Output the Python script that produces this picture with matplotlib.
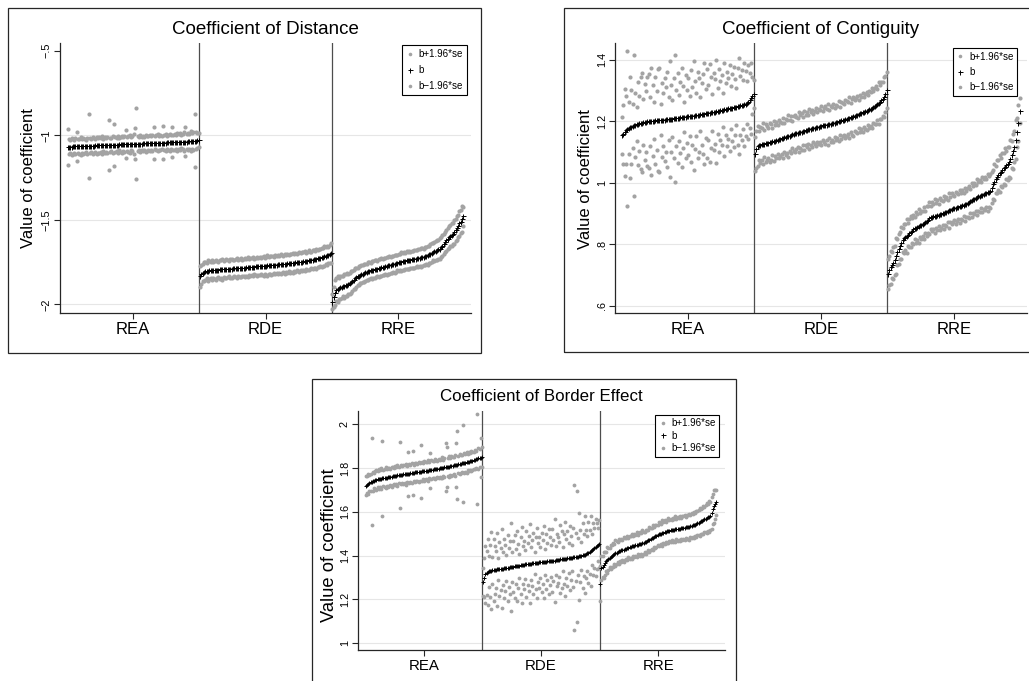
import matplotlib
matplotlib.use('Agg')
import matplotlib.pyplot as plt
from matplotlib.patches import Rectangle
from matplotlib.lines import Line2D
import numpy as np

plt.rcParams['font.family'] = ['Liberation Sans', 'DejaVu Sans']

groups = ['REA', 'RDE', 'RRE']
legend_labels = ['b+1.96*se', 'b', 'b\u22121.96*se']

# ---------------- Coefficient of Distance ----------------
dist_rea_b = [
    -1.070, -1.068, -1.067, -1.067, -1.066, -1.066, -1.065, -1.065, -1.065, -1.064,
    -1.064, -1.064, -1.063, -1.063, -1.063, -1.062, -1.062, -1.062, -1.061, -1.061,
    -1.061, -1.060, -1.060, -1.060, -1.059, -1.059, -1.059, -1.058, -1.058, -1.058,
    -1.057, -1.057, -1.057, -1.056, -1.056, -1.056, -1.055, -1.055, -1.055, -1.054,
    -1.054, -1.054, -1.053, -1.053, -1.053, -1.052, -1.052, -1.052, -1.051, -1.051,
    -1.051, -1.050, -1.050, -1.050, -1.049, -1.049, -1.049, -1.048, -1.048, -1.048,
    -1.047, -1.047, -1.047, -1.046, -1.046, -1.046, -1.045, -1.045, -1.045, -1.044,
    -1.044, -1.044, -1.043, -1.043, -1.043, -1.042, -1.042, -1.042, -1.041, -1.041,
    -1.041, -1.040, -1.040, -1.040, -1.039, -1.039, -1.039, -1.038, -1.038, -1.037,
    -1.037, -1.036, -1.036, -1.035, -1.035, -1.034, -1.033, -1.032, -1.031, -1.028]
dist_rea_hw = [
    0.108, 0.045, 0.038, 0.050, 0.042, 0.036, 0.047, 0.085, 0.040, 0.044,
    0.052, 0.039, 0.046, 0.041, 0.035, 0.048, 0.190, 0.043, 0.038, 0.050,
    0.044, 0.037, 0.049, 0.042, 0.046, 0.040, 0.053, 0.038, 0.045, 0.041,
    0.047, 0.149, 0.043, 0.039, 0.051, 0.123, 0.044, 0.040, 0.048, 0.036,
    0.045, 0.050, 0.041, 0.047, 0.083, 0.039, 0.046, 0.052, 0.038, 0.044,
    0.060, 0.090, 0.210, 0.043, 0.037, 0.049, 0.041, 0.046, 0.039, 0.051,
    0.044, 0.040, 0.048, 0.042, 0.047, 0.095, 0.038, 0.045, 0.050, 0.041,
    0.046, 0.039, 0.100, 0.044, 0.049, 0.037, 0.043, 0.051, 0.040, 0.090,
    0.045, 0.048, 0.041, 0.053, 0.044, 0.050, 0.039, 0.046, 0.055, 0.088,
    0.047, 0.052, 0.044, 0.058, 0.049, 0.055, 0.156, 0.050, 0.046, 0.040]
dist_rde_b = [
    -1.833, -1.822, -1.812, -1.806, -1.803, -1.801, -1.800, -1.799, -1.798, -1.797,
    -1.796, -1.796, -1.795, -1.794, -1.794, -1.793, -1.792, -1.792, -1.791, -1.790,
    -1.790, -1.789, -1.789, -1.788, -1.788, -1.787, -1.786, -1.786, -1.785, -1.785,
    -1.784, -1.783, -1.783, -1.782, -1.782, -1.781, -1.780, -1.780, -1.779, -1.778,
    -1.778, -1.777, -1.776, -1.776, -1.775, -1.774, -1.774, -1.773, -1.772, -1.771,
    -1.771, -1.770, -1.769, -1.768, -1.768, -1.767, -1.766, -1.765, -1.765, -1.764,
    -1.763, -1.762, -1.761, -1.760, -1.760, -1.759, -1.758, -1.757, -1.756, -1.755,
    -1.754, -1.753, -1.752, -1.751, -1.750, -1.749, -1.748, -1.747, -1.745, -1.744,
    -1.743, -1.742, -1.740, -1.739, -1.737, -1.736, -1.734, -1.732, -1.730, -1.728,
    -1.726, -1.724, -1.722, -1.719, -1.716, -1.713, -1.710, -1.707, -1.703, -1.698]
dist_rde_hw = [
    0.062, 0.055, 0.048, 0.058, 0.051, 0.045, 0.060, 0.053, 0.049, 0.057,
    0.046, 0.054, 0.059, 0.050, 0.047, 0.056, 0.052, 0.061, 0.048, 0.053,
    0.057, 0.050, 0.046, 0.055, 0.059, 0.051, 0.048, 0.054, 0.062, 0.049,
    0.053, 0.058, 0.047, 0.052, 0.056, 0.050, 0.060, 0.048, 0.054, 0.051,
    0.057, 0.046, 0.053, 0.059, 0.050, 0.055, 0.048, 0.052, 0.058, 0.047,
    0.054, 0.060, 0.049, 0.053, 0.056, 0.051, 0.047, 0.058, 0.052, 0.055,
    0.049, 0.057, 0.053, 0.046, 0.059, 0.052, 0.055, 0.048, 0.056, 0.051,
    0.058, 0.050, 0.054, 0.047, 0.053, 0.060, 0.049, 0.055, 0.052, 0.057,
    0.048, 0.054, 0.059, 0.051, 0.046, 0.056, 0.053, 0.050, 0.058, 0.052,
    0.055, 0.049, 0.057, 0.053, 0.060, 0.051, 0.056, 0.048, 0.054, 0.058]
dist_rre_b = [
    -1.985, -1.955, -1.930, -1.915, -1.910, -1.905, -1.900, -1.897, -1.893, -1.890,
    -1.886, -1.883, -1.879, -1.875, -1.868, -1.860, -1.853, -1.846, -1.840, -1.835,
    -1.830, -1.826, -1.822, -1.818, -1.814, -1.810, -1.806, -1.803, -1.801, -1.799,
    -1.796, -1.794, -1.792, -1.790, -1.788, -1.785, -1.783, -1.781, -1.779, -1.777,
    -1.774, -1.772, -1.770, -1.768, -1.766, -1.763, -1.761, -1.759, -1.756, -1.754,
    -1.751, -1.749, -1.747, -1.745, -1.744, -1.742, -1.740, -1.739, -1.737, -1.736,
    -1.734, -1.733, -1.731, -1.730, -1.728, -1.726, -1.724, -1.722, -1.720, -1.718,
    -1.715, -1.712, -1.709, -1.705, -1.700, -1.695, -1.690, -1.686, -1.682, -1.678,
    -1.674, -1.670, -1.662, -1.652, -1.642, -1.632, -1.622, -1.612, -1.603, -1.595,
    -1.588, -1.581, -1.572, -1.560, -1.548, -1.536, -1.521, -1.510, -1.495, -1.480]
dist_rre_hw = [
    0.045, 0.060, 0.072, 0.068, 0.075, 0.063, 0.070, 0.066, 0.058, 0.071,
    0.064, 0.069, 0.057, 0.062, 0.067, 0.060, 0.055, 0.063, 0.058, 0.052,
    0.056, 0.050, 0.054, 0.049, 0.055, 0.051, 0.047, 0.053, 0.050, 0.046,
    0.052, 0.048, 0.054, 0.050, 0.045, 0.051, 0.049, 0.053, 0.047, 0.050,
    0.046, 0.052, 0.049, 0.054, 0.048, 0.051, 0.047, 0.053, 0.050, 0.045,
    0.051, 0.048, 0.054, 0.049, 0.052, 0.047, 0.053, 0.050, 0.055, 0.048,
    0.052, 0.049, 0.054, 0.051, 0.047, 0.053, 0.050, 0.055, 0.052, 0.048,
    0.054, 0.051, 0.056, 0.053, 0.058, 0.055, 0.050, 0.057, 0.054, 0.059,
    0.056, 0.061, 0.058, 0.063, 0.060, 0.057, 0.064, 0.061, 0.066, 0.062,
    0.067, 0.063, 0.069, 0.065, 0.070, 0.066, 0.072, 0.068, 0.075, 0.055]

# ---------------- Coefficient of Contiguity ----------------
cont_rea_b = [
    1.155, 1.158, 1.165, 1.172, 1.176, 1.179, 1.181, 1.183, 1.185, 1.187,
    1.189, 1.191, 1.193, 1.194, 1.195, 1.196, 1.197, 1.198, 1.199, 1.200,
    1.200, 1.201, 1.201, 1.202, 1.202, 1.203, 1.203, 1.204, 1.204, 1.205,
    1.205, 1.206, 1.206, 1.207, 1.207, 1.208, 1.208, 1.209, 1.209, 1.210,
    1.210, 1.211, 1.211, 1.212, 1.213, 1.213, 1.214, 1.214, 1.215, 1.216,
    1.216, 1.217, 1.218, 1.218, 1.219, 1.220, 1.221, 1.221, 1.222, 1.223,
    1.224, 1.224, 1.225, 1.226, 1.227, 1.228, 1.228, 1.229, 1.230, 1.231,
    1.232, 1.233, 1.234, 1.235, 1.236, 1.237, 1.238, 1.239, 1.240, 1.241,
    1.242, 1.243, 1.244, 1.245, 1.246, 1.247, 1.248, 1.249, 1.250, 1.252,
    1.253, 1.254, 1.256, 1.258, 1.260, 1.263, 1.268, 1.275, 1.283, 1.290]
cont_rea_hw = [
    0.060, 0.095, 0.142, 0.110, 0.252, 0.085, 0.165, 0.120, 0.070, 0.230,
    0.105, 0.055, 0.135, 0.090, 0.150, 0.160, 0.075, 0.125, 0.100, 0.145,
    0.153, 0.080, 0.174, 0.115, 0.060, 0.140, 0.095, 0.165, 0.170, 0.050,
    0.120, 0.085, 0.135, 0.105, 0.155, 0.070, 0.190, 0.110, 0.060, 0.130,
    0.206, 0.090, 0.145, 0.075, 0.115, 0.160, 0.100, 0.050, 0.135, 0.085,
    0.125, 0.065, 0.150, 0.095, 0.176, 0.110, 0.070, 0.140, 0.120, 0.055,
    0.100, 0.130, 0.165, 0.080, 0.145, 0.090, 0.160, 0.115, 0.060, 0.125,
    0.105, 0.167, 0.075, 0.135, 0.095, 0.115, 0.055, 0.150, 0.085, 0.120,
    0.100, 0.140, 0.070, 0.110, 0.130, 0.090, 0.060, 0.125, 0.156, 0.095,
    0.115, 0.080, 0.135, 0.105, 0.070, 0.120, 0.090, 0.115, 0.060, 0.045]
cont_rde_b = [
    1.093, 1.110, 1.119, 1.122, 1.124, 1.125, 1.127, 1.128, 1.129, 1.130,
    1.131, 1.132, 1.133, 1.135, 1.136, 1.137, 1.139, 1.140, 1.142, 1.143,
    1.145, 1.146, 1.148, 1.149, 1.151, 1.152, 1.154, 1.156, 1.158, 1.160,
    1.161, 1.162, 1.163, 1.165, 1.166, 1.167, 1.169, 1.170, 1.172, 1.173,
    1.174, 1.175, 1.176, 1.177, 1.178, 1.180, 1.181, 1.182, 1.183, 1.185,
    1.186, 1.187, 1.188, 1.189, 1.189, 1.190, 1.191, 1.192, 1.194, 1.195,
    1.196, 1.197, 1.198, 1.200, 1.201, 1.203, 1.205, 1.206, 1.208, 1.209,
    1.211, 1.212, 1.214, 1.215, 1.217, 1.218, 1.220, 1.222, 1.224, 1.226,
    1.228, 1.229, 1.231, 1.233, 1.235, 1.237, 1.239, 1.241, 1.244, 1.247,
    1.250, 1.253, 1.256, 1.260, 1.264, 1.268, 1.273, 1.280, 1.290, 1.302]
cont_rde_hw = [
    0.055, 0.060, 0.065, 0.048, 0.058, 0.052, 0.067, 0.045, 0.061, 0.054,
    0.049, 0.063, 0.057, 0.044, 0.066, 0.051, 0.059, 0.047, 0.062, 0.055,
    0.050, 0.064, 0.046, 0.058, 0.053, 0.068, 0.049, 0.060, 0.044, 0.056,
    0.061, 0.052, 0.047, 0.065, 0.054, 0.059, 0.045, 0.063, 0.050, 0.057,
    0.048, 0.066, 0.053, 0.060, 0.046, 0.055, 0.062, 0.049, 0.058, 0.051,
    0.064, 0.047, 0.056, 0.061, 0.050, 0.067, 0.045, 0.059, 0.053, 0.063,
    0.048, 0.057, 0.052, 0.065, 0.046, 0.060, 0.054, 0.049, 0.062, 0.056,
    0.051, 0.066, 0.047, 0.058, 0.063, 0.050, 0.055, 0.061, 0.046, 0.059,
    0.053, 0.064, 0.049, 0.057, 0.062, 0.048, 0.060, 0.055, 0.066, 0.052,
    0.058, 0.063, 0.050, 0.067, 0.056, 0.061, 0.054, 0.065, 0.059, 0.060]
cont_rre_b = [
    0.704, 0.716, 0.725, 0.733, 0.740, 0.748, 0.762, 0.775, 0.785, 0.795,
    0.805, 0.813, 0.820, 0.825, 0.828, 0.832, 0.837, 0.841, 0.845, 0.849,
    0.852, 0.855, 0.857, 0.860, 0.862, 0.864, 0.867, 0.870, 0.873, 0.876,
    0.881, 0.885, 0.888, 0.890, 0.891, 0.893, 0.894, 0.896, 0.897, 0.899,
    0.900, 0.902, 0.903, 0.905, 0.907, 0.909, 0.911, 0.913, 0.916, 0.918,
    0.919, 0.920, 0.921, 0.923, 0.924, 0.925, 0.927, 0.929, 0.930, 0.932,
    0.935, 0.938, 0.941, 0.945, 0.947, 0.949, 0.951, 0.954, 0.956, 0.958,
    0.960, 0.962, 0.964, 0.966, 0.968, 0.970, 0.972, 0.975, 0.985, 0.996,
    1.004, 1.012, 1.020, 1.026, 1.031, 1.036, 1.042, 1.048, 1.053, 1.058,
    1.063, 1.068, 1.078, 1.091, 1.103, 1.118, 1.140, 1.165, 1.195, 1.235]
cont_rre_hw = [
    0.050, 0.047, 0.055, 0.043, 0.052, 0.046, 0.058, 0.041, 0.049, 0.044,
    0.053, 0.039, 0.047, 0.042, 0.056, 0.038, 0.045, 0.051, 0.040, 0.048,
    0.036, 0.050, 0.043, 0.055, 0.039, 0.046, 0.041, 0.053, 0.037, 0.048,
    0.044, 0.052, 0.038, 0.047, 0.042, 0.055, 0.040, 0.049, 0.036, 0.051,
    0.045, 0.039, 0.053, 0.043, 0.048, 0.037, 0.056, 0.041, 0.050, 0.044,
    0.038, 0.052, 0.046, 0.040, 0.054, 0.043, 0.049, 0.037, 0.055, 0.042,
    0.047, 0.051, 0.039, 0.056, 0.044, 0.050, 0.041, 0.058, 0.046, 0.052,
    0.043, 0.057, 0.048, 0.053, 0.045, 0.060, 0.049, 0.055, 0.051, 0.047,
    0.058, 0.044, 0.053, 0.049, 0.061, 0.046, 0.056, 0.050, 0.059, 0.045,
    0.055, 0.048, 0.062, 0.044, 0.057, 0.050, 0.063, 0.047, 0.058, 0.040]

# ---------------- Coefficient of Border Effect ----------------
bord_rea_b = [
    1.720, 1.724, 1.728, 1.731, 1.735, 1.738, 1.740, 1.743, 1.745, 1.747,
    1.749, 1.750, 1.751, 1.752, 1.753, 1.754, 1.755, 1.756, 1.757, 1.758,
    1.759, 1.760, 1.761, 1.762, 1.763, 1.765, 1.766, 1.767, 1.767, 1.768,
    1.769, 1.770, 1.771, 1.772, 1.772, 1.773, 1.774, 1.775, 1.776, 1.777,
    1.778, 1.779, 1.780, 1.780, 1.781, 1.782, 1.783, 1.784, 1.785, 1.786,
    1.787, 1.787, 1.788, 1.789, 1.790, 1.791, 1.792, 1.793, 1.794, 1.795,
    1.796, 1.797, 1.798, 1.799, 1.800, 1.801, 1.802, 1.803, 1.804, 1.805,
    1.806, 1.807, 1.808, 1.809, 1.810, 1.812, 1.813, 1.814, 1.815, 1.817,
    1.818, 1.820, 1.821, 1.822, 1.823, 1.824, 1.826, 1.827, 1.829, 1.831,
    1.833, 1.834, 1.836, 1.838, 1.840, 1.842, 1.844, 1.846, 1.848, 1.851]
bord_rea_hw = [
    0.042, 0.038, 0.045, 0.036, 0.040, 0.200, 0.043, 0.035, 0.041, 0.046,
    0.037, 0.044, 0.039, 0.048, 0.170, 0.036, 0.042, 0.047, 0.038, 0.043,
    0.040, 0.035, 0.046, 0.041, 0.037, 0.044, 0.039, 0.048, 0.036, 0.150,
    0.043, 0.038, 0.045, 0.040, 0.047, 0.037, 0.100, 0.042, 0.039, 0.046,
    0.100, 0.036, 0.044, 0.041, 0.038, 0.047, 0.040, 0.120, 0.043, 0.037,
    0.045, 0.039, 0.042, 0.048, 0.036, 0.080, 0.044, 0.040, 0.038, 0.046,
    0.041, 0.037, 0.045, 0.039, 0.043, 0.048, 0.036, 0.042, 0.110, 0.090,
    0.040, 0.046, 0.038, 0.044, 0.041, 0.037, 0.047, 0.100, 0.155, 0.039,
    0.045, 0.042, 0.038, 0.175, 0.044, 0.040, 0.047, 0.036, 0.043, 0.039,
    0.046, 0.041, 0.038, 0.044, 0.040, 0.205, 0.047, 0.043, 0.090, 0.045]
bord_rde_b = [
    1.279, 1.300, 1.315, 1.322, 1.326, 1.329, 1.331, 1.332, 1.333, 1.334,
    1.335, 1.336, 1.337, 1.338, 1.339, 1.339, 1.340, 1.341, 1.342, 1.343,
    1.344, 1.345, 1.346, 1.347, 1.348, 1.349, 1.350, 1.351, 1.352, 1.353,
    1.354, 1.355, 1.356, 1.357, 1.358, 1.359, 1.360, 1.361, 1.362, 1.363,
    1.363, 1.364, 1.365, 1.365, 1.366, 1.367, 1.367, 1.368, 1.369, 1.369,
    1.370, 1.371, 1.372, 1.372, 1.373, 1.374, 1.374, 1.375, 1.376, 1.377,
    1.378, 1.378, 1.379, 1.380, 1.381, 1.382, 1.383, 1.383, 1.384, 1.385,
    1.386, 1.387, 1.388, 1.389, 1.390, 1.390, 1.391, 1.392, 1.393, 1.394,
    1.395, 1.396, 1.397, 1.398, 1.399, 1.401, 1.402, 1.405, 1.408, 1.411,
    1.414, 1.418, 1.422, 1.427, 1.431, 1.435, 1.439, 1.444, 1.450, 1.455]
bord_rde_hw = [
    0.065, 0.090, 0.130, 0.100, 0.150, 0.070, 0.120, 0.175, 0.060, 0.140,
    0.110, 0.085, 0.165, 0.050, 0.125, 0.095, 0.180, 0.075, 0.135, 0.105,
    0.060, 0.150, 0.090, 0.120, 0.200, 0.070, 0.115, 0.145, 0.080, 0.160,
    0.100, 0.055, 0.130, 0.175, 0.085, 0.110, 0.065, 0.150, 0.095, 0.125,
    0.180, 0.075, 0.105, 0.140, 0.050, 0.120, 0.160, 0.090, 0.115, 0.070,
    0.135, 0.100, 0.165, 0.060, 0.125, 0.085, 0.150, 0.110, 0.075, 0.145,
    0.095, 0.190, 0.065, 0.120, 0.105, 0.080, 0.155, 0.130, 0.055, 0.115,
    0.170, 0.090, 0.125, 0.070, 0.145, 0.100, 0.060, 0.135, 0.330, 0.110,
    0.300, 0.085, 0.200, 0.120, 0.065, 0.150, 0.095, 0.175, 0.110, 0.080,
    0.140, 0.100, 0.160, 0.070, 0.120, 0.090, 0.130, 0.105, 0.075, 0.110]
bord_rre_b = [
    1.271, 1.342, 1.350, 1.358, 1.366, 1.374, 1.380, 1.385, 1.390, 1.395,
    1.399, 1.403, 1.407, 1.411, 1.414, 1.417, 1.420, 1.422, 1.424, 1.426,
    1.428, 1.430, 1.432, 1.434, 1.436, 1.438, 1.440, 1.442, 1.443, 1.445,
    1.447, 1.449, 1.451, 1.452, 1.454, 1.455, 1.457, 1.459, 1.461, 1.464,
    1.467, 1.470, 1.473, 1.476, 1.479, 1.482, 1.485, 1.488, 1.491, 1.494,
    1.497, 1.499, 1.501, 1.503, 1.505, 1.507, 1.509, 1.511, 1.513, 1.515,
    1.516, 1.517, 1.518, 1.519, 1.520, 1.521, 1.522, 1.523, 1.524, 1.525,
    1.526, 1.527, 1.528, 1.529, 1.530, 1.531, 1.532, 1.534, 1.536, 1.538,
    1.540, 1.542, 1.545, 1.548, 1.551, 1.554, 1.557, 1.560, 1.563, 1.566,
    1.569, 1.572, 1.575, 1.578, 1.581, 1.596, 1.612, 1.625, 1.635, 1.644]
bord_rre_hw = [
    0.080, 0.055, 0.048, 0.060, 0.052, 0.045, 0.058, 0.050, 0.043, 0.056,
    0.049, 0.054, 0.046, 0.059, 0.051, 0.044, 0.057, 0.048, 0.053, 0.045,
    0.058, 0.050, 0.047, 0.055, 0.043, 0.052, 0.049, 0.056, 0.046, 0.053,
    0.048, 0.057, 0.044, 0.051, 0.055, 0.047, 0.059, 0.050, 0.045, 0.054,
    0.049, 0.046, 0.056, 0.052, 0.048, 0.058, 0.044, 0.053, 0.050, 0.047,
    0.055, 0.051, 0.046, 0.058, 0.049, 0.054, 0.045, 0.052, 0.057, 0.048,
    0.053, 0.047, 0.056, 0.050, 0.059, 0.046, 0.054, 0.051, 0.057, 0.049,
    0.055, 0.052, 0.058, 0.048, 0.056, 0.053, 0.060, 0.050, 0.057, 0.054,
    0.059, 0.052, 0.061, 0.055, 0.058, 0.063, 0.056, 0.060, 0.065, 0.058,
    0.062, 0.067, 0.060, 0.070, 0.064, 0.072, 0.068, 0.075, 0.066, 0.058]

# axis tick values / labels
dist_yticks = [-2.0, -1.5, -1.0, -0.5]
dist_ylabels = ['\u22122', '\u22121.5', '\u22121', '\u2212.5']
cont_yticks = [0.6, 0.8, 1.0, 1.2, 1.4]
cont_ylabels = ['.6', '.8', '1', '1.2', '1.4']
bord_yticks = [1.0, 1.2, 1.4, 1.6, 1.8, 2.0]
bord_ylabels = ['1', '1.2', '1.4', '1.6', '1.8', '2']

W, H = 1029, 681
fig = plt.figure(figsize=(W / 100, H / 100), dpi=100)
GRAY = '#a3a3a3'
DARK = '#262626'

panels = [
    dict(title='Coefficient of Distance',
         b=[dist_rea_b, dist_rde_b, dist_rre_b], hw=[dist_rea_hw, dist_rde_hw, dist_rre_hw],
         box=(8, 8, 481, 353), ax=(60, 43, 471, 313), xlim=(-4.7, 305.7), ylim=(-2.051, -0.4545),
         yt=dist_yticks, yl=dist_ylabels, grid=[-2.0, -1.5, -1.0],
         title_xy=(265.5, 30), ylab_xy=(29, 178), fs_title=13.5, fs_ylab=12, fs_x=12,
         leg=(0.991, 0.993), scale=1.0, lsp=0.6, bpad=0.45),
    dict(title='Coefficient of Contiguity',
         b=[cont_rea_b, cont_rde_b, cont_rre_b], hw=[cont_rea_hw, cont_rde_hw, cont_rre_hw],
         box=(564, 8, 1040, 352), ax=(615.3, 43.3, 1026.7, 313.3), xlim=(-4.0, 305.3), ylim=(0.576, 1.454),
         yt=cont_yticks, yl=cont_ylabels, grid=cont_yticks,
         title_xy=(821, 30), ylab_xy=(585, 179), fs_title=13.5, fs_ylab=12, fs_x=12,
         leg=(0.976, 0.982), scale=1.0, lsp=0.55, bpad=0.35),
    dict(title='Coefficient of Border Effect',
         b=[bord_rea_b, bord_rde_b, bord_rre_b], hw=[bord_rea_hw, bord_rde_hw, bord_rre_hw],
         box=(312, 379, 736, 700), ax=(358, 410.5, 725, 650), xlim=(-5.7, 307.5), ylim=(0.9694, 2.063),
         yt=bord_yticks, yl=bord_ylabels, grid=bord_yticks,
         title_xy=(541.5, 396.5), ylab_xy=(329, 545), fs_title=12.2, fs_ylab=13.2, fs_x=10.8,
         leg=(0.9845, 0.981), scale=0.92, lsp=0.25, bpad=0.35),
]

for p in panels:
    l, t, r, bt = p['box']
    fig.add_artist(Rectangle((l / W, 1 - bt / H), (r - l) / W, (bt - t) / H,
                             transform=fig.transFigure, fill=False, ec=DARK, lw=0.9))
    l, t, r, bt = p['ax']
    ax = fig.add_axes([l / W, 1 - bt / H, (r - l) / W, (bt - t) / H])
    s = p['scale']
    for yv in p['grid']:
        ax.axhline(yv, color='#e6e6e6', lw=0.8, zorder=0)
    for g in range(3):
        b = np.array(p['b'][g])
        hw = np.array(p['hw'][g])
        x = np.arange(1, len(b) + 1) + 100 * g
        ax.plot(x, b + hw, 'o', color=GRAY, ms=3.0 * s, mew=0, ls='none', zorder=2)
        ax.plot(x, b - hw, 'o', color=GRAY, ms=3.0 * s, mew=0, ls='none', zorder=2)
        ax.plot(x, b, '+', color='black', ms=3.6 * s, mew=0.7, ls='none', zorder=3)
    for sep in (100.5, 200.5):
        ax.axvline(sep, color='#4d4d4d', lw=0.9, zorder=1)
    ax.set_xlim(*p['xlim'])
    ax.set_ylim(*p['ylim'])
    ax.set_yticks(p['yt'])
    ax.set_yticklabels(p['yl'])
    ax.set_xticks([50.5, 150.5, 250.5])
    ax.set_xticklabels(groups)
    ax.tick_params(axis='y', length=4.5, width=0.8, color=DARK, pad=1.5, labelsize=7.8,
                   labelrotation=90)
    for lbl in ax.get_yticklabels():
        lbl.set_va('center')
    ax.tick_params(axis='x', length=4, width=0.8, color=DARK, pad=2.5, labelsize=p['fs_x'])
    for sp in ('top', 'right'):
        ax.spines[sp].set_visible(False)
    for sp in ('left', 'bottom'):
        ax.spines[sp].set_color(DARK)
        ax.spines[sp].set_linewidth(0.9)
    handles = [Line2D([], [], marker='o', color=GRAY, ls='none', ms=2.6, mew=0),
               Line2D([], [], marker='+', color='black', ls='none', ms=3.6, mew=0.7),
               Line2D([], [], marker='o', color=GRAY, ls='none', ms=2.6, mew=0)]
    leg = ax.legend(handles, legend_labels, loc='upper right', bbox_to_anchor=p['leg'],
                    fontsize=7, frameon=True, fancybox=False, edgecolor='black', framealpha=1,
                    borderpad=p['bpad'], labelspacing=p['lsp'], handlelength=0.8,
                    handletextpad=0.5, borderaxespad=0)
    leg.get_frame().set_linewidth(0.8)
    fig.text(p['title_xy'][0] / W, 1 - p['title_xy'][1] / H, p['title'],
             ha='center', va='center', fontsize=p['fs_title'])
    fig.text(p['ylab_xy'][0] / W, 1 - p['ylab_xy'][1] / H, 'Value of coefficient',
             ha='center', va='center', rotation=90, fontsize=p['fs_ylab'])

fig.savefig('out.png', dpi=100)
